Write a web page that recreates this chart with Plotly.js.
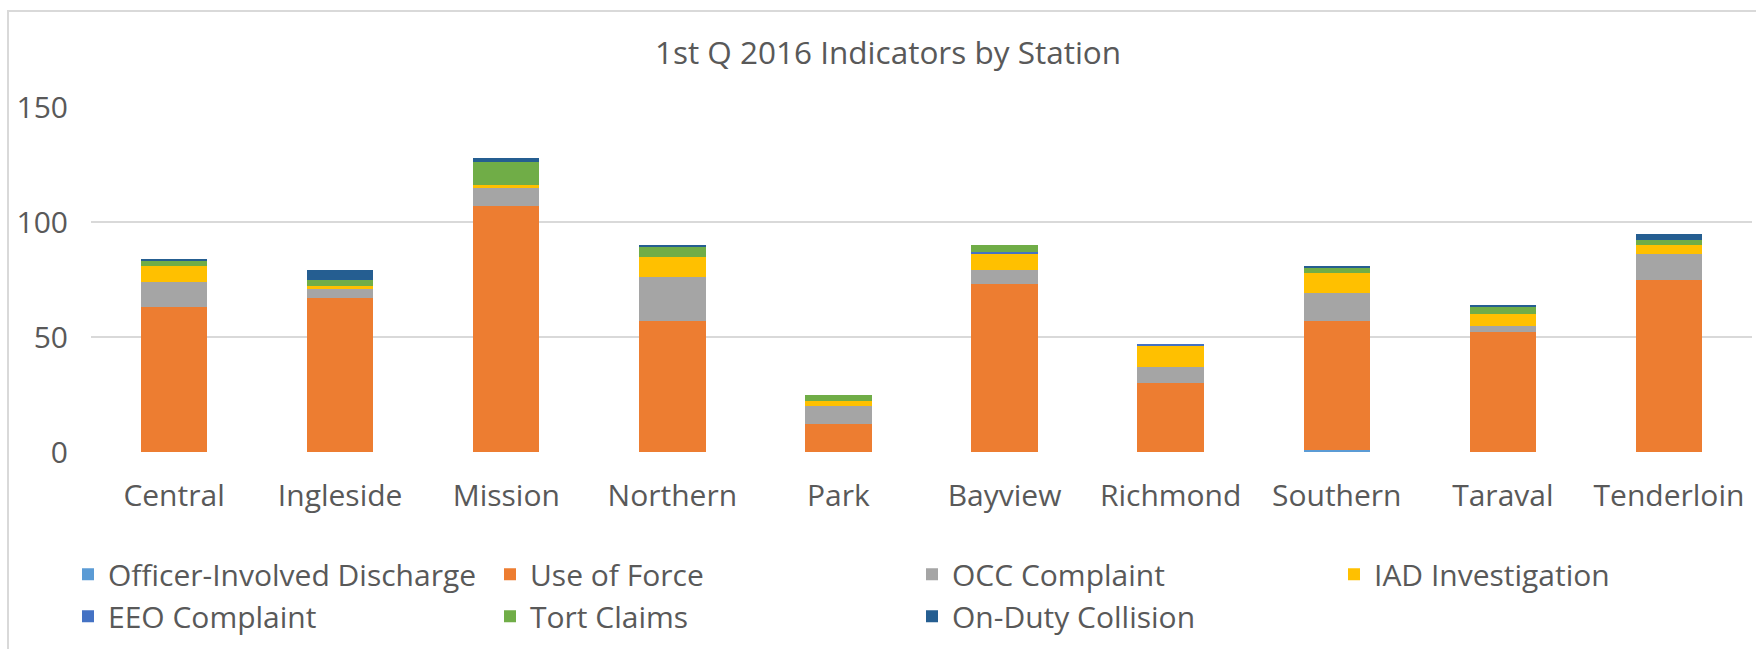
<!DOCTYPE html>
<html>
<head>
<meta charset="utf-8">
<script src="https://cdn.plot.ly/plotly-3.0.1.min.js"></script>
<style>
  html, body { margin: 0; padding: 0; background: #ffffff; }
  #chart { position: absolute; left: 0; top: 0; width: 1756px; height: 649px; }
  #frame { position: absolute; left: 7px; top: 10px; width: 1800px; height: 700px;
           border-left: 2px solid #D9D9D9; border-top: 2px solid #D9D9D9; pointer-events: none; }
</style>
</head>
<body>
<div id="chart"></div>
<div id="frame"></div>
<script>
// Categories (stations)
const stations = ['Central', 'Ingleside', 'Mission', 'Northern', 'Park', 'Bayview', 'Richmond', 'Southern', 'Taraval', 'Tenderloin'];

// Series values (counts)
const officerInvolvedDischarge = [0, 0, 0, 0, 0, 0, 0, 1, 0, 0];
const useOfForce               = [63, 67, 107, 57, 12, 73, 30, 56, 52, 75];
const occComplaint             = [11, 4, 8, 19, 8, 6, 7, 12, 3, 11];
const iadInvestigation         = [7, 1, 1, 9, 2, 7, 9, 9, 5, 4];
const eeoComplaint             = [0, 0, 0, 0, 0, 1, 1, 0, 0, 0];
const tortClaims               = [2, 3, 10, 4, 3, 3, 0, 2, 3, 2];
const onDutyCollision          = [1, 4, 2, 1, 0, 0, 0, 1, 1, 3];

// Series names and y tick values
const seriesNames = ['Officer-Involved Discharge', 'Use of Force', 'OCC Complaint', 'IAD Investigation', 'EEO Complaint', 'Tort Claims', 'On-Duty Collision'];
const yTicks = [0, 50, 100, 150];

const seriesValues = [officerInvolvedDischarge, useOfForce, occComplaint, iadInvestigation, eeoComplaint, tortClaims, onDutyCollision];
const seriesColors = ['#5B9BD5', '#ED7D31', '#A5A5A5', '#FFC000', '#4472C4', '#70AD47', '#255E91'];

const FONT = "'Open Sans', 'Noto Sans', sans-serif";
const TXT = '#595959';

const traces = seriesNames.map((name, i) => ({
  type: 'bar',
  name: name,
  x: stations,
  y: seriesValues[i],
  marker: { color: seriesColors[i], line: { width: 0 } },
  hoverinfo: 'x+y+name'
}));

const layout = {
  width: 1756,
  height: 649,
  barmode: 'stack',
  bargap: 0.6,
  paper_bgcolor: '#ffffff',
  plot_bgcolor: '#ffffff',
  margin: { l: 91, r: 4, t: 107, b: 197, pad: 0 },
  font: { family: FONT, color: TXT, size: 30 },
  title: {
    text: '1st Q 2016 Indicators by Station',
    font: { family: FONT, size: 31.5, color: TXT },
    x: 0.5057, xref: 'container', xanchor: 'center',
    y: 0.918, yref: 'container', yanchor: 'middle'
  },
  xaxis: {
    type: 'category',
    showgrid: false,
    showline: false,
    zeroline: false,
    ticks: '',
    tickfont: { family: FONT, size: 30, color: TXT },
    ticklabelstandoff: 23
  },
  yaxis: {
    range: [0, 150],
    tickvals: yTicks,
    ticktext: yTicks.map(String),
    showgrid: true,
    gridcolor: '#D9D9D9',
    gridwidth: 1.5,
    zeroline: false,
    showline: false,
    ticks: '',
    tickfont: { family: FONT, size: 30, color: TXT },
    ticklabelstandoff: 22
  },
  showlegend: true,
  legend: {
    orientation: 'h',
    x: -0.0114, xanchor: 'left',
    y: -0.279, yanchor: 'top',
    font: { family: FONT, size: 30, color: TXT },
    entrywidth: 377,
    entrywidthmode: 'pixels',
    itemwidth: 30,
    traceorder: 'normal',
    bgcolor: 'rgba(0,0,0,0)'
  }
};

Plotly.newPlot('chart', traces, layout, { displayModeBar: false, staticPlot: true });
</script>
</body>
</html>
